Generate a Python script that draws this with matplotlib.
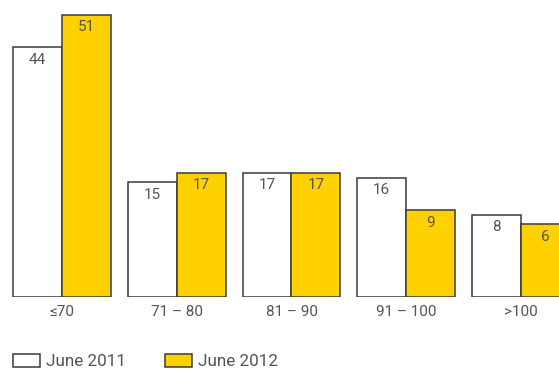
import numpy as np
import matplotlib
matplotlib.use("Agg")
import matplotlib.pyplot as plt

categories = ["≤70", "71 – 80", "81 – 90", "91 – 100", ">100"]
june_2011 = [44, 15, 17, 16, 8]
june_2012 = [51, 17, 17, 9, 6]
series_names = ["June 2011", "June 2012"]

yellow = "#FFD100"
edge = "#3a3a3a"
txt = "#555555"
base = -9.7  # bars start below zero on this chart

plt.rcParams["font.family"] = ["Roboto", "DejaVu Sans"]

fig = plt.figure(figsize=(5.59, 3.71), dpi=100)
ax = fig.add_axes([0, 74 / 371, 1, 297 / 371])

x = np.arange(len(categories))
w = 0.427
v11 = np.array(june_2011)
v12 = np.array(june_2012)
b1 = ax.bar(x - w / 2, v11 - base, bottom=base, width=w, color="white",
            edgecolor=edge, linewidth=1.1, label=series_names[0])
b2 = ax.bar(x + w / 2, v12 - base, bottom=base, width=w, color=yellow,
            edgecolor=edge, linewidth=1.1, label=series_names[1])

for xs, vals in ((x - w / 2, v11), (x + w / 2, v12)):
    for xi, v in zip(xs, vals):
        ax.annotate(str(v), (xi, v), xytext=(0, -4), textcoords="offset points",
                    ha="center", va="top", fontsize=11, color=txt)

ax.set_xlim(-62 / 114.75, (559 - 62) / 114.75)
ax.set_ylim(base, 54.2)
ax.set_xticks(x)
ax.set_xticklabels(categories, fontsize=11, color=txt)
ax.tick_params(axis="x", length=0, pad=6)
ax.set_yticks([])
for s in ax.spines.values():
    s.set_visible(False)

fig.legend(handles=[b1, b2], labels=series_names, loc="lower left",
           bbox_to_anchor=(13 / 559, 2 / 371), ncol=2, frameon=False,
           fontsize=12.3, labelcolor=txt, handlelength=1.58, handleheight=0.8,
           handletextpad=0.35, columnspacing=2.3, borderpad=0, borderaxespad=0)

fig.savefig("out.png", dpi=100)
